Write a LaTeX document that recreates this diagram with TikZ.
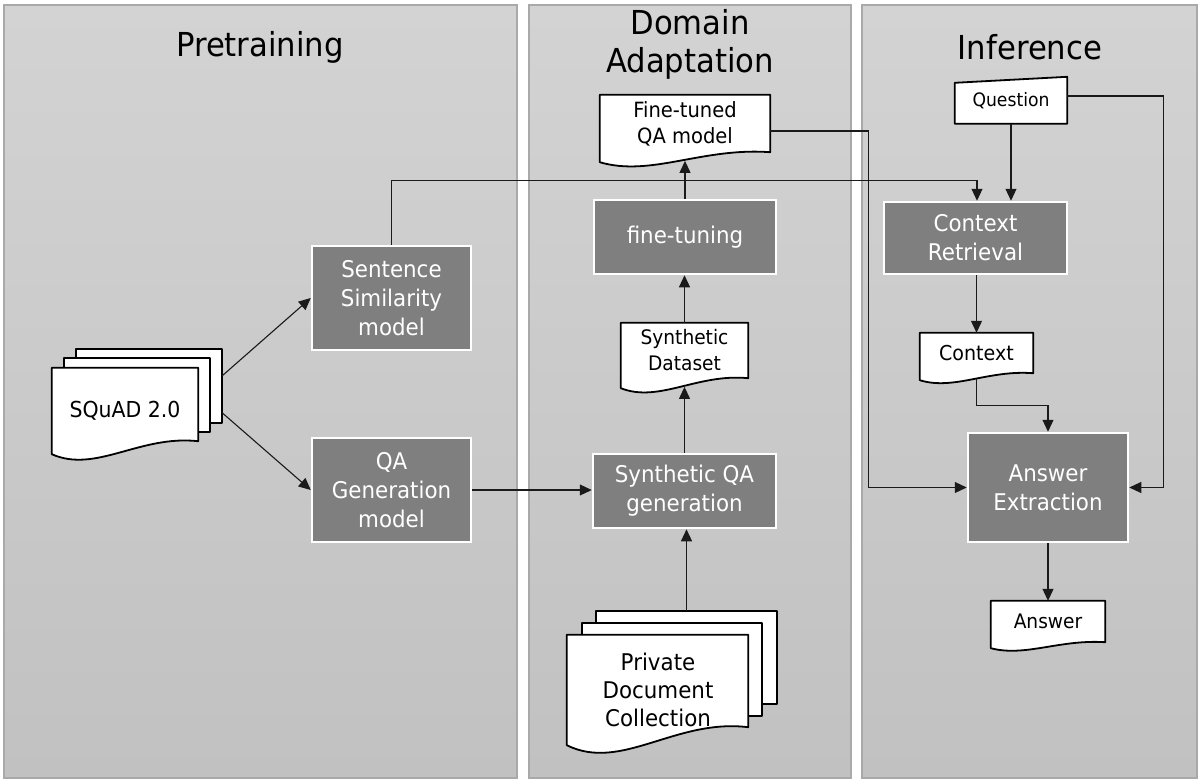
\documentclass[tikz,border=0pt]{standalone}
\usepackage{fontspec}
\setmainfont{DejaVu Sans}[FakeStretch=0.93]
\usetikzlibrary{calc,arrows.meta}
\definecolor{boxgray}{HTML}{7F7F7F}
\definecolor{paneltop}{HTML}{D3D3D3}
\definecolor{panelbot}{HTML}{C1C1C1}
\definecolor{panelline}{HTML}{A9A9A9}
\definecolor{conn}{HTML}{1A1A1A}
\pgfdeclarelayer{bg}
\pgfdeclarelayer{docs}
\pgfsetlayers{bg,docs,main}
\tikzset{
  panel/.style={draw=panelline, line width=1.5pt, top color=paneltop, bottom color=panelbot},
  titletext/.style={font=\fontsize{33}{38}\selectfont, align=center, inner sep=0},
  procbox/.style={draw=white, line width=2.5pt, fill=boxgray, text=white, align=center,
    font=\fontsize{23}{29}\selectfont, inner sep=0},
  docn/.style={inner sep=0, align=center, font=\fontsize{20}{26}\selectfont},
  doctext/.style={inner sep=0, align=center, font=\fontsize{22}{28}\selectfont},
  docline/.style={draw=black, fill=white, line width=1.8pt, line join=round},
  arr/.style={draw=conn, line width=1.1pt, -{Triangle[length=12pt,width=11pt]}},
}
\newcommand\docoutline[2]{%
  \begin{pgfonlayer}{docs}
  \path[docline] (#1.north west) -- (#1.north east) -- (#1.south east)
    .. controls ($(#1.south west)!0.6!(#1.south east)+(0,-0.5*#2)$)
       and ($(#1.south west)!0.3!(#1.south east)+(0,2.5*#2)$) ..
    ($(#1.south west)+(0,#2)$) -- cycle;
  \end{pgfonlayer}}
\newcommand\backsheet[1]{%
  \begin{pgfonlayer}{docs}
  \path[docline] (#1.north west) rectangle (#1.south east);
  \end{pgfonlayer}}
\begin{document}
\begin{tikzpicture}[x=1pt,y=-1pt]
\useasboundingbox (0,0) rectangle (1204,782);
% panels
\begin{pgfonlayer}{bg}
\fill[white] (0,0) rectangle (1204,782);
\path[panel] (4,5) rectangle (517,778);
\path[panel] (529,5) rectangle (851,778);
\path[panel] (862,5) rectangle (1197,778);
\end{pgfonlayer}
% titles
\node[titletext] (t1) at (260,47) {Pretraining};
\node[titletext] (t2) at (690,44) {Domain\\Adaptation};
\node[titletext] (t3) at (1030,47) {Inference};

% Pretraining
\node[docn, minimum width=146pt, minimum height=74pt] (sqb) at (149,386) {};
\node[docn, minimum width=146pt, minimum height=74pt] (sqm) at (137,395) {};
\node[docn, minimum width=146pt, minimum height=73pt] (sq) at (125,404.5) {};
\backsheet{sqb}\backsheet{sqm}\docoutline{sq}{13}
\node[doctext] (sqt) at (125,411) {SQuAD 2.0};

\node[procbox, minimum width=159pt, minimum height=104pt] (ss) at (391.5,298) {Sentence\\Similarity\\model};
\node[procbox, minimum width=159pt, minimum height=104pt] (qa) at (391.5,490) {QA\\Generation\\model};

% Domain adaptation
\node[docn, minimum width=170pt, minimum height=57pt, font=\fontsize{21}{26}\selectfont] (fm) at (685,123.5) {Fine-tuned\\QA model};
\docoutline{fm}{10}
\node[procbox, minimum width=182pt, minimum height=74pt] (ft) at (685,237) {fine-tuning};
\node[docn, minimum width=127pt, minimum height=55pt] (sd) at (684.5,350.5) {Synthetic\\Dataset};
\docoutline{sd}{10}
\node[procbox, minimum width=183pt, minimum height=74pt] (sqa) at (684.5,491) {Synthetic QA\\generation};
\node[docn, minimum width=181pt, minimum height=93pt] (pdb) at (686.5,657.5) {};
\node[docn, minimum width=180pt, minimum height=93pt] (pdm) at (672,669.5) {};
\node[docn, minimum width=181pt, minimum height=92pt] (pd) at (657.5,681) {};
\backsheet{pdb}\backsheet{pdm}\docoutline{pd}{18}
\node[doctext, font=\fontsize{23}{28}\selectfont] (pdt) at (658,690) {Private\\Document\\Collection};

% Inference
\node[docn, minimum width=112pt, minimum height=45pt, font=\fontsize{18.5}{24}\selectfont] (q) at (1011,101) {Question};
\begin{pgfonlayer}{docs}
\path[docline] (q.south west) -- (q.south east) -- ($(q.north east)+(0,-1.5)$) -- ($(q.north west)+(0,4.5)$) -- cycle;
\end{pgfonlayer}
\node[procbox, minimum width=183pt, minimum height=72pt] (cr) at (975.5,238) {Context\\Retrieval};
\node[docn, minimum width=113pt, minimum height=40pt, font=\fontsize{20.5}{26}\selectfont] (ctx) at (976.5,353) {Context};
\docoutline{ctx}{7}
\node[procbox, minimum width=160pt, minimum height=109pt] (ae) at (1048,487.5) {Answer\\Extraction};
\node[docn, minimum width=114pt, minimum height=41pt] (ans) at (1048,621.5) {Answer};
\docoutline{ans}{6}

% connectors
\draw[arr] ($(sqb.north east)+(0,27)$) -- (ss.west);
\draw[arr] ($(sqb.north east)+(0,64)$) -- (qa.west);
\draw[arr] (ss.north) |- ($(cr.north)+(1.5,-20)$) -- ($(cr.north)+(1.5,0)$);
\draw[arr] (qa.east) -- (qa.east -| sqa.west);
\draw[arr] (pdb.north) -- (pdb.north |- sqa.south);
\draw[arr] (sqa.north) -- ($(sd.south)+(0,8.7)$);
\draw[arr] (sd.north) -- (sd.north |- ft.south);
\draw[arr] (ft.north) -- ($(fm.south)+(0,8.7)$);
\draw[arr] ($(fm.east)+(0,7.5)$) -- ++(98,0) |- (ae.west);
\draw[arr] ($(q.east)+(0,-5)$) -- ++(96,0) |- (ae.east);
\draw[arr] (q.south) -- (q.south |- cr.north);
\draw[arr] (ctx.north |- cr.south) -- (ctx.north);
\draw[arr] ($(ctx.south)+(0,6)$) |- ($(ae.north)+(0,-26)$) -- (ae.north);
\draw[arr] (ae.south) -- (ans.north);
\end{tikzpicture}
\end{document}
